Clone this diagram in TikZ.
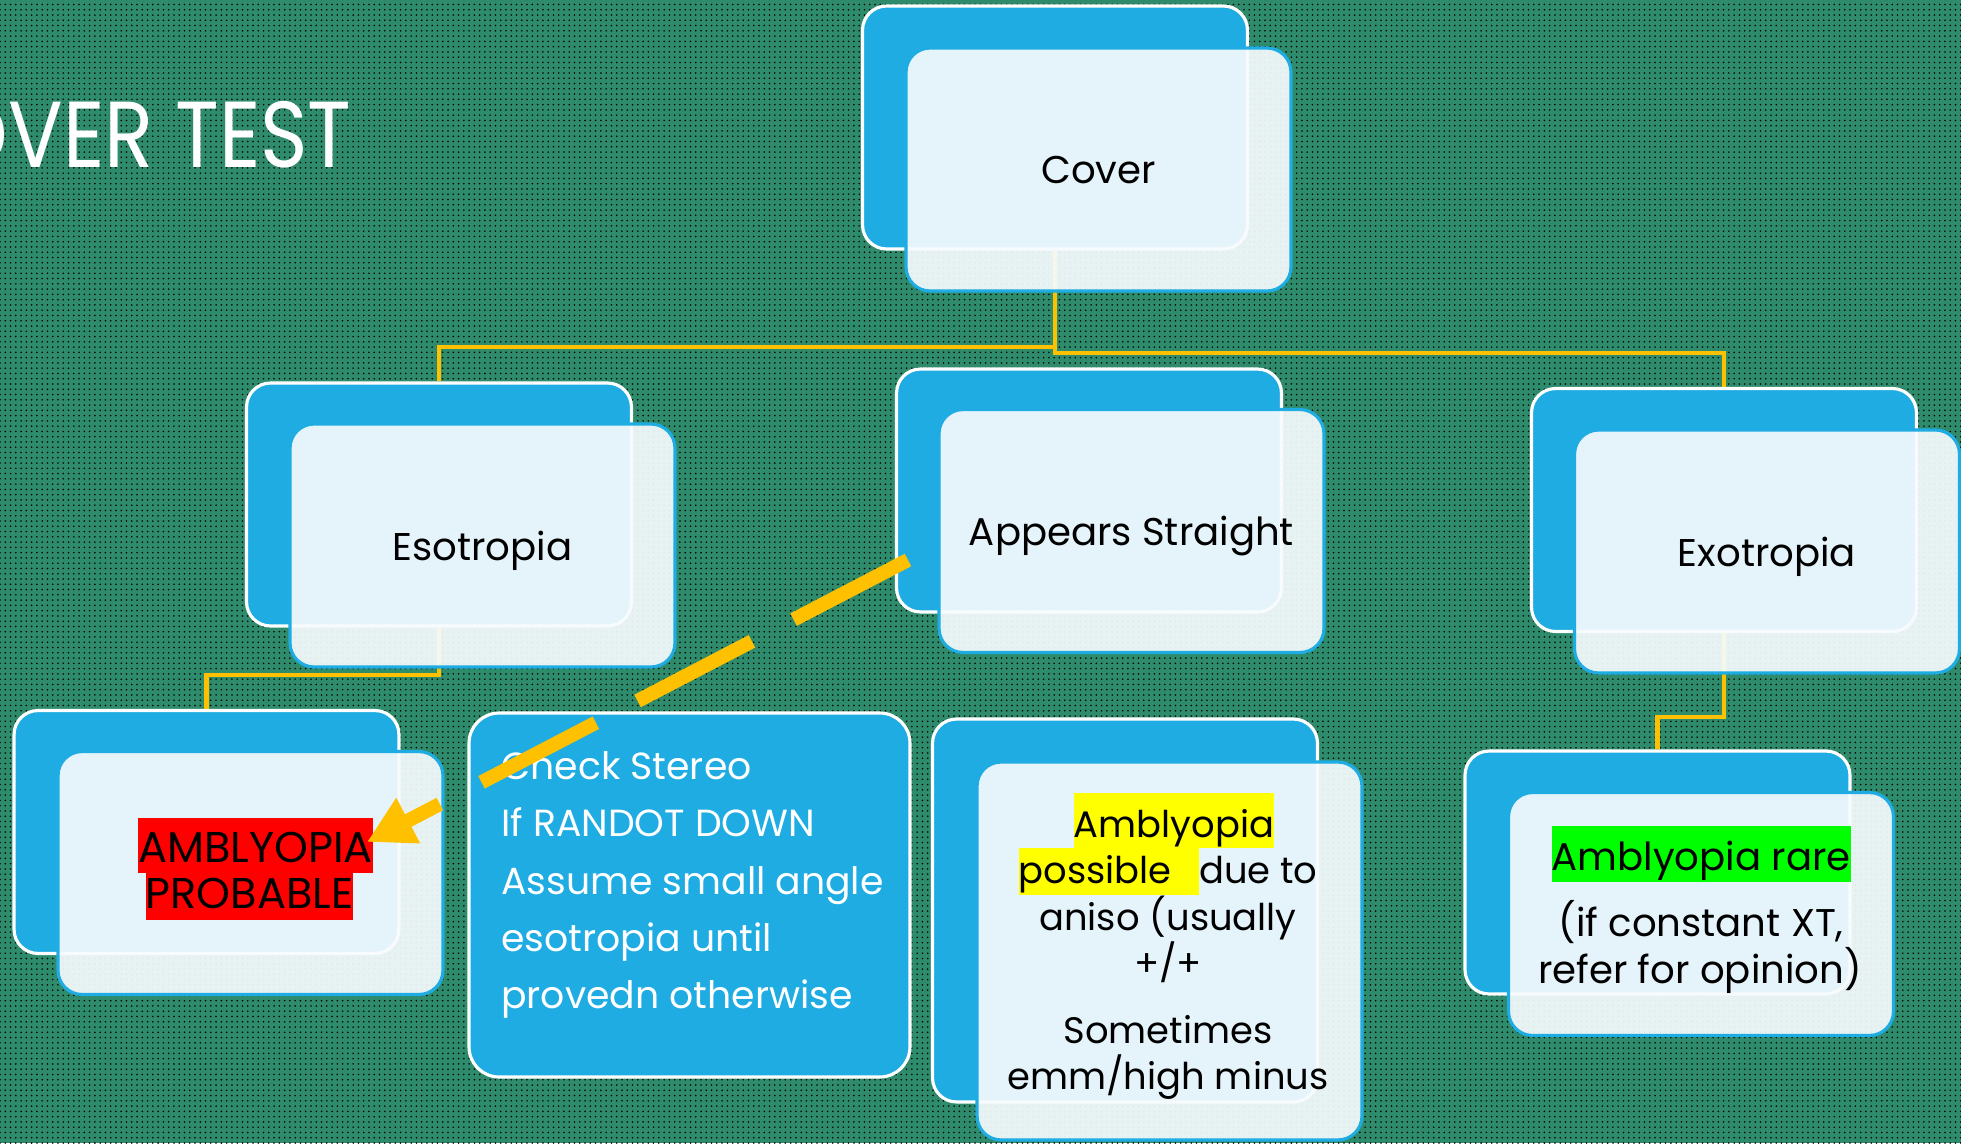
\documentclass[tikz,border=0pt]{standalone}
\usepackage{fontspec}
\setmainfont{Poppins}
\usetikzlibrary{patterns,arrows.meta,calc}
\definecolor{bggreen}{HTML}{2E8B6C}
\definecolor{boxblue}{HTML}{1EACE2}
\definecolor{frontfill}{HTML}{F7FBFE}
\definecolor{gold}{HTML}{FFC000}
\definecolor{hlred}{HTML}{FF0000}
\definecolor{hlyellow}{HTML}{FFFF00}
\definecolor{hlgreen}{HTML}{00FF00}
\newcommand{\boxfont}{\fontsize{22}{26}\selectfont}
\newcommand{\possfont}{\fontsize{21}{26}\selectfont}
\newcommand{\ambfont}{\fontsize{24.5}{26}\selectfont}
\newcommand{\chkfont}{\fontsize{21.5}{32}\selectfont}
\tikzset{
  backbox/.style={draw=white, line width=1.8pt, fill=boxblue, rounded corners=0.48cm,
    minimum width=7.7cm, minimum height=4.86cm, inner sep=0pt},
  frontbox/.style={draw=boxblue, line width=1.8pt, fill=frontfill, fill opacity=0.92,
    text opacity=1, rounded corners=0.48cm, minimum width=7.7cm, minimum height=4.86cm,
    inner sep=0pt, font=\boxfont, text=black, text depth=0pt},
  conn/.style={draw=gold, line width=2.3pt},
  dashconn/.style={draw=gold, line width=8pt, dash pattern=on 2.58cm off 0.94cm,
    -{Triangle[length=0.93cm,width=0.96cm]}},
  linetext/.style={anchor=base, inner sep=0pt, font=\boxfont, text=black},
  chktext/.style={anchor=base west, inner sep=0pt, font=\chkfont, text=white},
  hl/.style={fill=#1, inner sep=0pt}
}
\begin{document}
\begin{tikzpicture}[x=0.02cm,y=-0.02cm]
\useasboundingbox (0,0) rectangle (1961,1143);
\fill[bggreen] (0,0) rectangle (1961,1143);
\fill[pattern=dots, pattern color=black] (0,0) rectangle (1961,1143);

% title
\node[anchor=base east, inner sep=0pt, text=white, font=\fontsize{46}{46}\selectfont] (title) at (352,167) {\scalebox{1}[1.16]{OVER TEST}};

% back boxes
\node[backbox] (covB) at (1055,127.5) {};
\node[backbox] (esoB) at (439,504.5) {};
\node[backbox] (appB) at (1089,490.5) {};
\node[backbox] (exoB) at (1724,510) {};
\node[backbox] (ambB) at (206.5,832) {};
\node[backbox, minimum height=7.66cm] (possB) at (1125,910.5) {};
\node[backbox] (rareB) at (1657.5,872.5) {};

% connectors
\draw[conn] (covB.south) -- ++(0,96) -| (esoB.north);
\draw[conn] (covB.south) -- ++(0,102) -| (exoB.north);
\draw[conn] (esoB.south) -- ++(0,47) -| (ambB.north);
\draw[conn] (exoB.south) -- ++(0,84) -| (rareB.north);

% front boxes
\node[frontbox] (covF) at (1098.5,169.5) {Cover};
\node[frontbox] (esoF) at (482.5,545.5) {Esotropia};
\node[frontbox] (appF) at (1131.5,531) {Appears Straight};
\node[frontbox] (exoF) at (1767,551.5) {Exotropia};
\node[frontbox] (ambF) at (250.5,873) {};
\node[frontbox, minimum height=7.56cm] (possF) at (1169.5,951) {};
\node[frontbox] (rareF) at (1701,914) {};

% Amblyopia probable
\node[linetext, font=\ambfont, hl=hlred, text height=0.88cm, text depth=0.22cm] (amb1) at (255.5,862) {AMBLYOPIA\hspace{7pt}};
\node[linetext, font=\ambfont, hl=hlred, text height=0.70cm, text depth=0.24cm] (amb2) at (249.5,908) {PROBABLE};

% Amblyopia possible
\node[linetext, font=\possfont, hl=hlyellow, text height=0.88cm, text depth=0.22cm] (poss1) at (1174,837) {Amblyopia\hspace{8pt}};
\node[linetext, font=\possfont] (poss2) at (1168,883) {{\setlength{\fboxsep}{0pt}\colorbox{hlyellow}{\rule[-0.24cm]{0pt}{0.94cm}possible\hspace{0.55cm}}}due to};
\node[linetext, font=\possfont] (poss3) at (1168,930) {aniso (usually};
\node[linetext, font=\possfont] (poss4) at (1168,976) {+/+};
\node[linetext, font=\possfont] (poss5) at (1168,1043) {Sometimes};
\node[linetext, font=\possfont] (poss6) at (1168,1089) {emm/high minus};

% Amblyopia rare
\node[linetext, hl=hlgreen, text height=0.88cm, text depth=0.24cm] (rare1) at (1701,870) {Amblyopia rare};
\node[linetext] (rare2) at (1701,936) {(if constant XT,};
\node[linetext] (rare3) at (1700,983) {refer for opinion)};

% Check stereo box
\node[draw=white, line width=1.8pt, fill=boxblue, rounded corners=0.6cm,
  minimum width=8.82cm, minimum height=7.28cm, inner sep=0pt] (chk) at (689.5,895) {};
\node[chktext] (chk1) at (501,779) {Check Stereo};
\node[chktext] (chk2) at (501,836) {If RANDOT DOWN};
\node[chktext] (chk3) at (501,894) {Assume small angle};
\node[chktext] (chk4) at (501,951) {esotropia until};
\node[chktext] (chk5) at (501,1008) {provedn otherwise};

% dashed connector with arrow
\coordinate (dA) at ($(appB.west)+(13,69.5)$);
\coordinate (aB) at (367,842);
\draw[dashconn] (dA) -- (aB);
\end{tikzpicture}
\end{document}
